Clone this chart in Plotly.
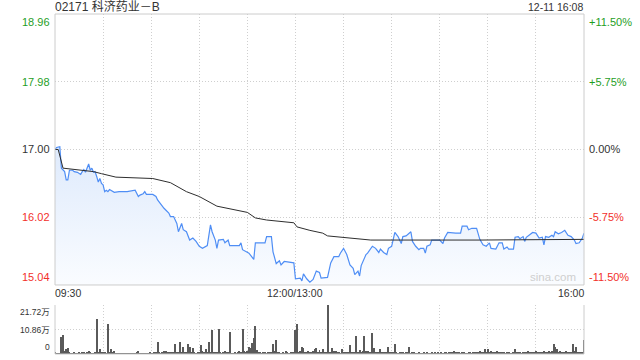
import plotly.graph_objects as go

# ---------------- data ----------------
title_text = "02171 科济药业－B"
stamp_text = "12-11 16:08"
prev_close = 17.00

# minute index since 09:30 (lunch break removed: 150 = 12:00/13:00, 330 = 16:00)
price_min = [0, 1, 3, 4, 6, 7, 8, 9, 11, 12, 14, 16, 17, 18, 19, 20, 21, 22, 23, 24,
             25, 26, 27, 28, 29, 30, 31, 32, 33, 34, 36, 37, 40, 45, 50, 51, 52, 53, 55, 56,
             57, 61, 63, 64, 68, 71, 72, 74, 76, 77, 79, 80, 82, 84, 86, 88, 90, 92, 95, 97,
             98, 100, 101, 102, 105, 106, 108, 109, 115, 116, 117, 121, 123, 124, 125, 127, 131, 132, 135, 136,
             138, 140, 141, 143, 149, 150, 153, 154, 155, 157, 159, 161, 163, 165, 166, 170, 172, 174, 177, 178,
             180, 182, 184, 186, 187, 189, 190, 191, 194, 195, 198, 200, 202, 203, 205, 207, 208, 210, 211, 212,
             214, 216, 217, 219, 222, 223, 225, 227, 228, 230, 231, 232, 234, 235, 240, 242, 243, 245, 250, 253,
             254, 257, 258, 260, 263, 265, 267, 269, 271, 272, 275, 277, 279, 280, 282, 283, 286, 287, 289, 290,
             292, 293, 294, 297, 298, 300, 302, 304, 305, 306, 308, 310, 311, 312, 314, 316, 318, 320, 322, 324,
             325, 327, 329, 330]
price_val = [17.00, 17.03, 17.04, 16.73, 16.68, 16.56, 16.56, 16.70, 16.70, 16.68, 16.67, 16.64, 16.68, 16.71, 16.67, 16.73, 16.79, 16.70, 16.73, 16.67,
             16.68, 16.61, 16.53, 16.58, 16.51, 16.49, 16.39, 16.41, 16.39, 16.42, 16.40, 16.38, 16.39, 16.39, 16.41, 16.36, 16.32, 16.34, 16.36, 16.39,
             16.35, 16.35, 16.32, 16.27, 16.15, 16.08, 16.03, 16.03, 15.93, 15.81, 15.93, 15.84, 15.81, 15.69, 15.72, 15.67, 15.60, 15.57, 15.61, 15.91,
             15.81, 15.69, 15.57, 15.69, 15.70, 15.65, 15.69, 15.61, 15.61, 15.65, 15.55, 15.50, 15.45, 15.41, 15.65, 15.65, 15.65, 15.74, 15.74, 15.52,
             15.35, 15.39, 15.33, 15.38, 15.36, 15.13, 15.14, 15.10, 15.20, 15.13, 15.08, 15.12, 15.24, 15.22, 15.14, 15.15, 15.36, 15.45, 15.45, 15.50,
             15.57, 15.48, 15.33, 15.28, 15.19, 15.24, 15.17, 15.32, 15.48, 15.50, 15.60, 15.57, 15.51, 15.56, 15.51, 15.48, 15.57, 15.60, 15.69, 15.80,
             15.74, 15.64, 15.74, 15.75, 15.81, 15.67, 15.60, 15.55, 15.57, 15.57, 15.50, 15.60, 15.62, 15.69, 15.69, 15.64, 15.72, 15.80, 15.79, 15.79,
             15.89, 15.89, 15.84, 15.86, 15.86, 15.70, 15.62, 15.60, 15.65, 15.57, 15.56, 15.65, 15.65, 15.56, 15.59, 15.56, 15.56, 15.73, 15.74, 15.71,
             15.74, 15.67, 15.73, 15.78, 15.80, 15.79, 15.72, 15.73, 15.62, 15.74, 15.73, 15.76, 15.74, 15.81, 15.78, 15.80, 15.83, 15.76, 15.74, 15.69,
             15.64, 15.65, 15.72, 15.79]

avg_min = [0, 2, 5, 24, 29, 35, 38, 61, 66, 72, 82, 90, 101, 109, 120, 125, 132, 149, 151, 159,
           167, 170, 180, 192, 197, 265, 330]
avg_val = [17.00, 17.00, 16.73, 16.68, 16.65, 16.61, 16.60, 16.58, 16.55, 16.52, 16.39, 16.32, 16.18, 16.14, 16.09, 16.01, 15.98, 15.94, 15.88, 15.83,
           15.79, 15.75, 15.73, 15.70, 15.69, 15.69, 15.70]

# volume per minute (unit: 万股), minutes 0..330
volume = [
    0.8, 0.3, 0.4, 0.3, 7.4, 8.6, 1.2, 2.0, 2.7, 0.6,
    0.4, 0.3, 0.5, 0.3, 0.4, 0.8, 0.3, 0.5, 1.0, 0.4,
    0.6, 1.2, 0.5, 0.3, 0.4, 0.6, 15.7, 1.0, 2.0, 0.8,
    0.5, 0.6, 0.4, 13.1, 0.8, 2.3, 0.6, 1.5, 0.4, 0.3,
    0.3, 0.4, 0.3, 0.2, 0.3, 0.4, 0.3, 0.2, 0.3, 0.4,
    0.3, 0.5, 1.5, 0.4, 0.3, 0.2, 0.3, 0.4, 0.3, 0.5,
    0.4, 0.3, 0.6, 0.8, 5.2, 0.6, 0.4, 0.5, 1.2, 1.4,
    0.5, 0.8, 0.6, 1.0, 0.5, 4.4, 0.8, 0.6, 5.2, 1.0,
    3.0, 0.6, 0.8, 4.6, 3.0, 0.5, 2.5, 0.6, 0.4, 0.8,
    0.6, 4.0, 1.5, 0.8, 2.0, 1.0, 5.3, 0.8, 10.5, 0.6,
    0.5, 0.8, 10.9, 0.6, 0.4, 0.5, 1.5, 0.6, 0.8, 9.7,
    0.4, 0.3, 0.6, 0.4, 0.5, 1.5, 0.8, 10.9, 1.2, 0.8,
    1.5, 3.0, 2.5, 4.8, 7.1, 12.3, 1.8, 0.6, 0.5, 0.4,
    1.0, 0.5, 0.4, 0.6, 1.0, 0.8, 4.4, 1.2, 6.0, 0.8,
    0.5, 0.4, 0.6, 0.4, 1.5, 0.6, 0.4, 0.5, 1.0, 0.8,
    10.5, 13.1, 0.8, 1.2, 2.9, 2.5, 0.8, 1.0, 1.5, 0.6,
    0.8, 1.2, 2.0, 2.5, 0.6, 1.8, 0.8, 2.3, 1.0, 0.6,
    21.72, 0.8, 0.6, 2.5, 1.2, 1.5, 0.6, 0.8, 0.4, 2.0,
    0.8, 1.0, 0.5, 0.8, 4.0, 0.6, 0.8, 1.0, 7.9, 0.6,
    1.8, 0.8, 1.2, 7.9, 1.5, 1.5, 0.8, 0.6, 9.1, 2.5,
    0.8, 1.0, 0.6, 2.0, 0.5, 0.6, 0.8, 0.5, 3.0, 0.6,
    0.8, 0.5, 4.3, 0.6, 0.4, 1.0, 0.5, 0.6, 0.4, 0.8,
    0.5, 3.0, 0.4, 0.6, 0.5, 0.4, 0.3, 0.5, 0.4, 0.3,
    0.5, 0.4, 0.6, 0.3, 0.4, 0.5, 0.3, 0.8, 0.4, 0.5,
    0.3, 0.6, 0.4, 0.5, 0.8, 0.4, 1.0, 0.5, 0.8, 1.2,
    0.5, 0.6, 1.0, 0.4, 0.5, 0.8, 0.3, 0.4, 0.6, 0.5,
    0.4, 0.5, 0.8, 1.0, 0.6, 1.5, 0.8, 0.6, 2.0, 0.8,
    2.0, 0.6, 1.5, 1.0, 0.8, 0.6, 1.2, 0.5, 0.8, 0.6,
    0.5, 0.4, 0.6, 0.5, 0.4, 0.3, 0.6, 2.0, 0.5, 0.8,
    0.6, 0.4, 1.0, 0.6, 0.8, 1.2, 0.5, 0.6, 0.8, 1.0,
    1.5, 0.6, 0.8, 1.0, 0.5, 1.2, 0.6, 0.8, 1.5, 1.0,
    1.2, 4.4, 3.0, 2.0, 0.8, 1.2, 0.6, 1.0, 0.8, 1.5,
    0.6, 1.0, 0.8, 4.4, 1.2, 3.0, 0.8, 0.6, 1.0, 0.8,
    6.4,
]
vol_min = list(range(len(volume)))

price_ticks = [18.96, 17.98, 17.00, 16.02, 15.04]
pct_ticks = ["+11.50%", "+5.75%", "0.00%", "-5.75%", "-11.50%"]
vol_ticks = [21.72, 10.86, 0]
vol_tick_text = ["21.72万", "10.86万", "0"]
time_pos = [0, 150, 330]
time_text = ["09:30", "12:00/13:00", "16:00"]
grid_minutes = list(range(0, 331, 30))

# ---------------- styling ----------------
GREEN = "#1f9e1f"
RED = "#f2302a"
DARK = "#333333"
FONT = "Liberation Sans, Arial, Noto Sans CJK SC, sans-serif"
GRID = "#cfcfcf"
BORDER = "#cccccc"

fig = go.Figure()

fig.add_trace(go.Scatter(
    x=price_min, y=price_val, mode="lines",
    line=dict(color="#4f8ef5", width=1.2),
    fill="tozeroy",
    fillgradient=dict(type="vertical",
                      colorscale=[[0, "rgba(250,252,255,1)"], [1, "rgba(222,234,252,1)"]],
                      start=15.04, stop=17.04),
    xaxis="x", yaxis="y", hoverinfo="skip",
))
fig.add_trace(go.Scatter(
    x=avg_min, y=avg_val, mode="lines",
    line=dict(color="#2e2e2e", width=1),
    xaxis="x", yaxis="y", hoverinfo="skip",
))
fig.add_trace(go.Bar(
    x=vol_min, y=volume, width=0.62,
    marker=dict(color="#5a5a5a", line=dict(width=0)),
    xaxis="x2", yaxis="y2", hoverinfo="skip",
))

axis_common = dict(showline=False, zeroline=False, ticks="", showticklabels=False,
                   gridcolor=GRID, griddash="1px,2px", gridwidth=1, fixedrange=True)

fig.update_layout(
    width=640, height=360,
    margin=dict(l=55, r=56, t=14, b=6),
    paper_bgcolor="white", plot_bgcolor="white",
    showlegend=False,
    bargap=0,
    xaxis=dict(domain=[0, 1], range=[0, 330], anchor="y", tickvals=grid_minutes, showgrid=True, **axis_common),
    yaxis=dict(domain=[0.203, 1], range=[15.04, 18.96], tickvals=[17.98, 17.00, 16.02], showgrid=True, **axis_common),
    xaxis2=dict(domain=[0, 1], range=[0, 330], anchor="y2", tickvals=grid_minutes, showgrid=True, **axis_common),
    yaxis2=dict(domain=[0, 0.144], range=[0, 21.72], tickvals=[10.86, 21.72], showgrid=True, **axis_common),
)

shapes = [
    dict(type="rect", xref="x domain", yref="y domain", x0=0, x1=1, y0=0, y1=1,
         line=dict(color=BORDER, width=1), layer="above"),
    dict(type="line", xref="x2 domain", yref="y2 domain", x0=0, x1=0, y0=0, y1=1,
         line=dict(color=BORDER, width=1)),
    dict(type="line", xref="x2 domain", yref="y2 domain", x0=1, x1=1, y0=0, y1=1,
         line=dict(color=BORDER, width=1)),
    dict(type="line", xref="x2 domain", yref="y2 domain", x0=0, x1=1, y0=0, y1=0,
         line=dict(color=BORDER, width=1)),
]
fig.update_layout(shapes=shapes)

ann = []
# title and timestamp
ann.append(dict(text=title_text, xref="paper", yref="paper", x=0, y=1, xanchor="left", yanchor="bottom",
                xshift=-2, yshift=-2, showarrow=False, font=dict(family=FONT, size=12, color=DARK)))
ann.append(dict(text=stamp_text, xref="paper", yref="paper", x=1, y=1, xanchor="right", yanchor="bottom",
                xshift=1, yshift=-1, showarrow=False, font=dict(family=FONT, size=10.5, color=DARK)))

# price / percent labels
for i, (p, t) in enumerate(zip(price_ticks, pct_ticks)):
    if p > prev_close:
        col = GREEN
    elif p < prev_close:
        col = RED
    else:
        col = DARK
    ya = "middle"
    if i == 0:
        ya = "top"
    elif i == len(price_ticks) - 1:
        ya = "bottom"
    ann.append(dict(text=f"{p:.2f}", xref="paper", yref="y", x=0, y=p, xanchor="right", yanchor=ya,
                    xshift=-3, showarrow=False, font=dict(family=FONT, size=11, color=col)))
    ann.append(dict(text=t, xref="paper", yref="y", x=1, y=p, xanchor="left", yanchor=ya,
                    xshift=3, showarrow=False, font=dict(family=FONT, size=11, color=col)))

# time labels
for pos, t in zip(time_pos, time_text):
    xa = "center"
    if pos == time_pos[0]:
        xa = "left"
    elif pos == time_pos[-1]:
        xa = "right"
    ann.append(dict(text=t, xref="x", yref="y domain", x=pos, y=0, xanchor=xa, yanchor="top",
                    xshift=(-2 if xa == "left" else (2 if xa == "right" else 0)),
                    showarrow=False, font=dict(family=FONT, size=10.5, color=DARK)))

# volume labels
for v, t in zip(vol_ticks, vol_tick_text):
    ya = "middle"
    if v == max(vol_ticks):
        ya = "top"
    elif v == 0:
        ya = "bottom"
    ann.append(dict(text=t, xref="paper", yref="y2", x=0, y=v, xanchor="right", yanchor=ya,
                    xshift=-3, showarrow=False, font=dict(family=FONT, size=8.5, color=DARK)))

# watermark
ann.append(dict(text="sina.com", xref="paper", yref="y", x=0.941, y=15.16, xanchor="center", yanchor="middle",
                showarrow=False, font=dict(family=FONT, size=11.5, color="#cfcfcf")))

fig.update_layout(annotations=ann)

fig.write_html("out.html")
